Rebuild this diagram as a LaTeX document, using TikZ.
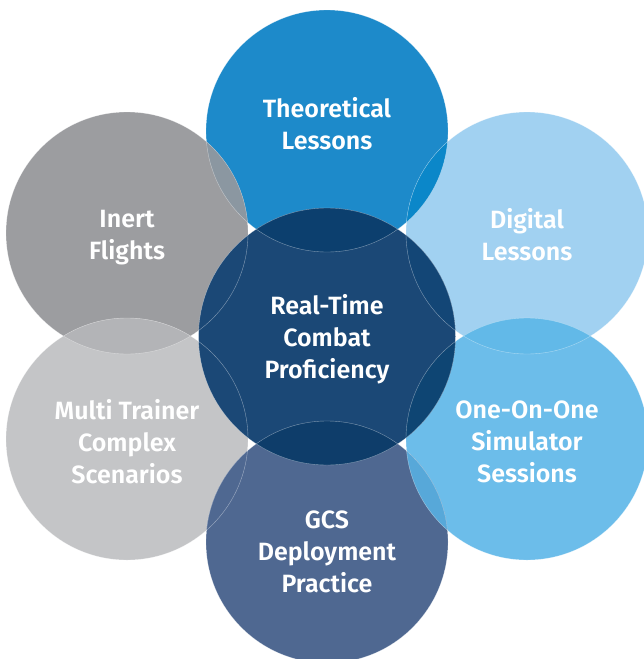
\documentclass[tikz,border=0pt]{standalone}
\usepackage{fontspec}
\setmainfont{Fira Sans}[BoldFont={Fira Sans SemiBold}]
\definecolor{cTop}{HTML}{1D8ACA}
\definecolor{cLT}{HTML}{9C9DA0}
\definecolor{cRT}{HTML}{A1D1F1}
\definecolor{cLB}{HTML}{C4C5C7}
\definecolor{cRB}{HTML}{6CBDEA}
\definecolor{cBot}{HTML}{4F6891}
\definecolor{cCen}{HTML}{1B4876}
\definecolor{oCT}{HTML}{0C3F6E}
\definecolor{oCB}{HTML}{0E3D6A}
\definecolor{oCRT}{HTML}{134676}
\definecolor{oCRB}{HTML}{0E4573}
\definecolor{oTLT}{HTML}{8B97A1}
\definecolor{oTRT}{HTML}{0B87C9}
\definecolor{oLL}{HTML}{B3B4B7}
\definecolor{oRR}{HTML}{62B9E8}
\definecolor{oBRB}{HTML}{57A8D9}
\tikzset{
  lbl/.style={text=white, align=center, font=\fontsize{25}{32}\selectfont\bfseries},
  rim/.style={draw=white, draw opacity=0.45, line width=0.4pt}
}
\newcommand{\ovl}[5]{\begin{scope}\clip (#1) circle (#2);\fill[#5] (#3) circle (#4);\end{scope}}
\begin{document}
\begin{tikzpicture}[x=1pt,y=-1pt]
\useasboundingbox (0,0) rectangle (644,659);
\coordinate (pT) at (327,131);
\coordinate (pB) at (327,542);
\coordinate (pLT) at (127,233);
\coordinate (pRT) at (527,233);
\coordinate (pLB) at (127,439);
\coordinate (pRB) at (527,439);
\coordinate (pC) at (327,336.5);
\def\rO{121}
\def\rC{128.5}
% base circles
\fill[cTop] (pT) circle (\rO);
\fill[cLT] (pLT) circle (\rO);
\fill[cRT] (pRT) circle (\rO);
\fill[cLB] (pLB) circle (\rO);
\fill[cRB] (pRB) circle (\rO);
\fill[cBot] (pB) circle (\rO);
\fill[cCen] (pC) circle (\rC);
% overlaps
\ovl{pT}{\rO}{pLT}{\rO}{oTLT}
\ovl{pT}{\rO}{pRT}{\rO}{oTRT}
\ovl{pLT}{\rO}{pLB}{\rO}{oLL}
\ovl{pRT}{\rO}{pRB}{\rO}{oRR}
\ovl{pB}{\rO}{pLB}{\rO}{cBot}
\ovl{pB}{\rO}{pRB}{\rO}{oBRB}
\ovl{pC}{\rC}{pT}{\rO}{oCT}
\ovl{pC}{\rC}{pB}{\rO}{oCB}
\ovl{pC}{\rC}{pRT}{\rO}{oCRT}
\ovl{pC}{\rC}{pRB}{\rO}{oCRB}
% rims
\foreach \p in {pT,pB,pLT,pRT,pLB,pRB} \draw[rim] (\p) circle (\rO);
\draw[rim] (pC) circle (\rC);
% labels
\node[lbl] (tT) at (327,124) {Theoretical\\Lessons};
\node[lbl] (tLT) at (127,238) {Inert\\Flights};
\node[lbl] (tRT) at (527,234.5) {Digital\\Lessons};
\node[lbl] (tC) at (327,339) {Real-Time\\Combat\\Proficiency};
\node[lbl] (tLB) at (127,441.5) {Multi Trainer\\Complex\\Scenarios};
\node[lbl] (tRB) at (527,441.5) {One-On-One\\Simulator\\Sessions};
\node[lbl] (tB) at (327,551.5) {GCS\\Deployment\\Practice};
\end{tikzpicture}
\end{document}
